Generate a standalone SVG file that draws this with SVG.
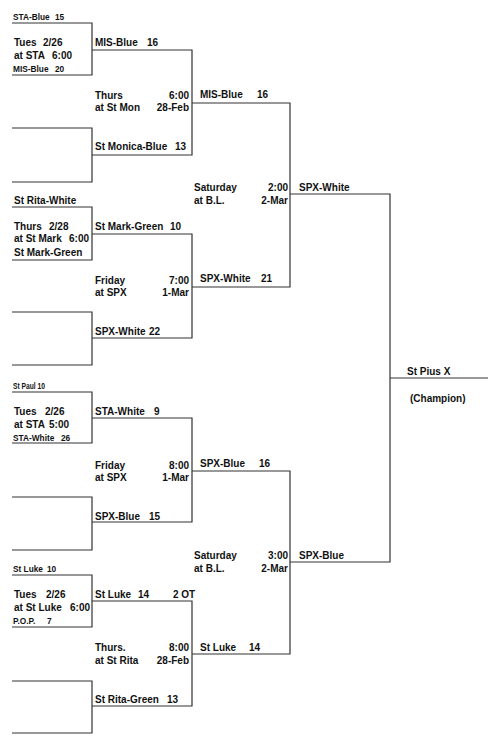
<svg xmlns="http://www.w3.org/2000/svg" width="500" height="752" viewBox="0 0 500 752">
<style>
text{font-family:"Liberation Sans",Arial,sans-serif;font-weight:bold;font-size:10px;fill:#111}
.s{font-size:8.3px}
.r{text-anchor:end}
.ln{fill:none;stroke:#333;stroke-width:1.2}
</style>
<rect width="500" height="752" fill="#fff"/>
<g id="connectors" class="ln">
<path d="M12,23H92V75H12"/>
<path d="M12,128H92V182H12"/>
<path d="M92,50H192V155H92"/>
<path d="M12,207H92V260H12"/>
<path d="M12,312H92V365H12"/>
<path d="M92,234H192V338H92"/>
<path d="M12,392H92V443H12"/>
<path d="M12,497H92V550H12"/>
<path d="M92,418H192V522H92"/>
<path d="M12,575H92V627H12"/>
<path d="M12,681H92V733H12"/>
<path d="M92,601H192V706H92"/>
<path d="M192,103H290V287H192"/>
<path d="M192,471H290V654H192"/>
<path d="M290,194H390V562H290"/>
<path d="M390,378H488"/>
</g>
<g id="g1">
<text class="s" x="13" y="20">STA-Blue</text><text class="s" x="55" y="20">15</text>
<text x="14" y="46">Tues</text><text x="43" y="46">2/26</text>
<text x="14" y="59">at STA</text><text x="52" y="59">6:00</text>
<text class="s" x="13" y="72">MIS-Blue</text><text class="s" x="55" y="72">20</text>
</g>
<g id="m1">
<text x="95" y="46">MIS-Blue</text><text x="147" y="46">16</text>
<text x="95" y="99">Thurs</text><text class="r" x="189" y="99">6:00</text>
<text x="95" y="111">at St Mon</text><text class="r" x="189" y="111">28-Feb</text>
<text x="95" y="150">St Monica-Blue</text><text x="175" y="150">13</text>
</g>
<g id="g2">
<text x="14" y="204">St Rita-White</text>
<text x="14" y="230">Thurs</text><text x="49" y="230">2/28</text>
<text x="14" y="242">at St Mark</text><text x="69" y="242">6:00</text>
<text x="14" y="256">St Mark-Green</text>
</g>
<g id="m2">
<text x="95" y="230">St Mark-Green</text><text x="170" y="230">10</text>
<text x="95" y="284">Friday</text><text class="r" x="189" y="284">7:00</text>
<text x="95" y="296">at SPX</text><text class="r" x="189" y="296">1-Mar</text>
<text x="95" y="335">SPX-White</text><text x="149" y="335">22</text>
</g>
<g id="g3">
<text class="s" x="13" y="389" textLength="32" lengthAdjust="spacingAndGlyphs">St Paul  10</text>
<text x="14" y="415">Tues</text><text x="45" y="415">2/26</text>
<text x="14" y="428">at STA</text><text x="49" y="428">5:00</text>
<text class="s" x="13" y="441">STA-White</text><text class="s" x="61" y="441">26</text>
</g>
<g id="m3">
<text x="95" y="415">STA-White</text><text x="154" y="415">9</text>
<text x="95" y="469">Friday</text><text class="r" x="189" y="469">8:00</text>
<text x="95" y="481">at SPX</text><text class="r" x="189" y="481">1-Mar</text>
<text x="95" y="520">SPX-Blue</text><text x="149" y="520">15</text>
</g>
<g id="g4">
<text class="s" x="13" y="572">St Luke</text><text class="s" x="47" y="572">10</text>
<text x="14" y="598">Tues</text><text x="46" y="598">2/26</text>
<text x="14" y="611">at St Luke</text><text x="70" y="611">6:00</text>
<text class="s" x="13" y="624">P.O.P.</text><text class="s" x="47" y="624">7</text>
</g>
<g id="m4">
<text x="95" y="598">St Luke</text><text x="138" y="598">14</text><text x="173" y="598">2 OT</text>
<text x="95" y="651">Thurs.</text><text class="r" x="189" y="651">8:00</text>
<text x="95" y="664">at St Rita</text><text class="r" x="189" y="664">28-Feb</text>
<text x="95" y="703">St Rita-Green</text><text x="167" y="703">13</text>
</g>
<g id="s1">
<text x="200" y="98">MIS-Blue</text><text x="257" y="98">16</text>
<text x="194" y="191">Saturday</text><text class="r" x="288" y="191">2:00</text>
<text x="194" y="204">at B.L.</text><text class="r" x="288" y="204">2-Mar</text>
<text x="200" y="282">SPX-White</text><text x="261" y="282">21</text>
</g>
<g id="s2">
<text x="200" y="467">SPX-Blue</text><text x="259" y="467">16</text>
<text x="194" y="559">Saturday</text><text class="r" x="288" y="559">3:00</text>
<text x="194" y="572">at B.L.</text><text class="r" x="288" y="572">2-Mar</text>
<text x="200" y="651">St Luke</text><text x="249" y="651">14</text>
</g>
<g id="f">
<text x="299" y="191">SPX-White</text>
<text x="299" y="559">SPX-Blue</text>
</g>
<g id="champ">
<text x="407" y="375">St Pius X</text>
<text x="410" y="402">(Champion)</text>
</g>
</svg>
